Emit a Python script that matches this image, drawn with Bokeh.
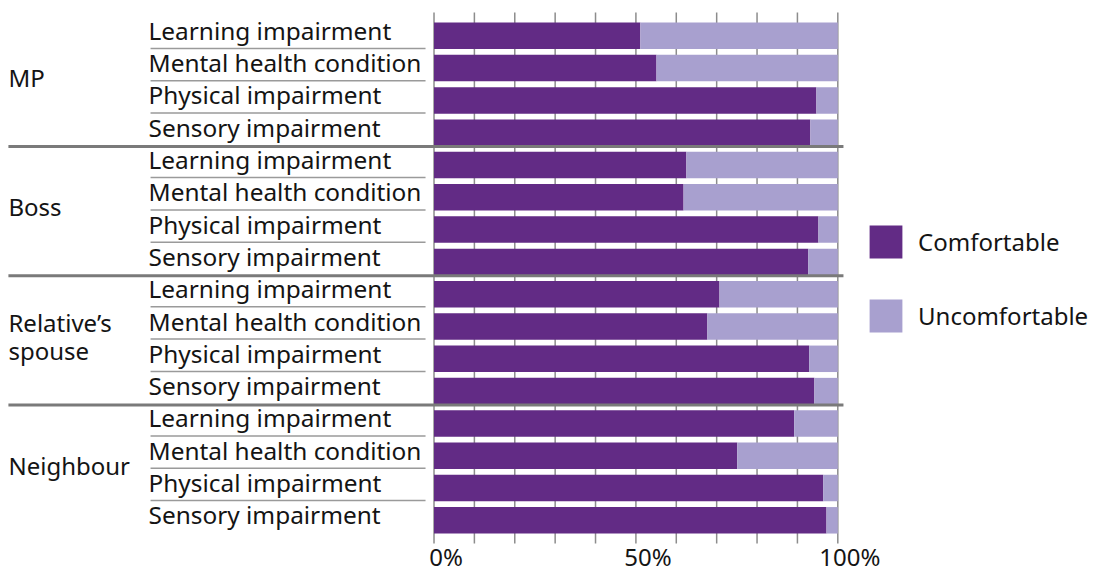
from bokeh.plotting import figure
from bokeh.models import Range1d, Legend, LegendItem
from bokeh.core.properties import value
from bokeh.embed import file_html
from bokeh.resources import INLINE

# ---- data ----
groups = ["MP", "Boss", "Relative\u2019s\nspouse", "Neighbour"]
conditions = ["Learning impairment", "Mental health condition",
              "Physical impairment", "Sensory impairment"]

mp_comfortable = [51.1, 55.1, 94.7, 93.2]
boss_comfortable = [62.5, 61.8, 95.2, 92.7]
spouse_comfortable = [70.7, 67.7, 92.9, 94.2]
neighbour_comfortable = [89.2, 75.1, 96.4, 97.2]

mp_uncomfortable = [48.9, 44.9, 5.3, 6.8]
boss_uncomfortable = [37.5, 38.2, 4.8, 7.3]
spouse_uncomfortable = [29.3, 32.3, 7.1, 5.8]
neighbour_uncomfortable = [10.8, 24.9, 3.6, 2.8]

grid_ticks = [0, 10, 20, 30, 40, 50, 60, 70, 80, 90, 100]
label_ticks = [0, 50, 100]
tick_labels = ["0%", "50%", "100%"]

series_names = ["Comfortable", "Uncomfortable"]

# ---- styles ----
DARK = "#622b85"
LIGHT = "#a8a0cf"
FONT = "Noto Sans"
TXT = "#141414"

comf = mp_comfortable + boss_comfortable + spouse_comfortable + neighbour_comfortable
uncomf = mp_uncomfortable + boss_uncomfortable + spouse_uncomfortable + neighbour_uncomfortable
n_cond = len(conditions)
rows = [g * n_cond + c for g in range(len(groups)) for c in range(n_cond)]
row_labels = [conditions[c] for g in range(len(groups)) for c in range(n_cond)]
left_unc = comf
right_unc = [a + b for a, b in zip(comf, uncomf)]

p = figure(width=1107, height=573,
           x_range=Range1d(-107.36, 166.79), y_range=Range1d(16.647, -1.093),
           output_backend="svg", toolbar_location=None, min_border=0,
           x_axis_location=None, y_axis_location=None)
p.grid.visible = False
p.outline_line_color = None
p.background_fill_color = "white"
p.border_fill_color = "white"

# vertical grid lines behind the bars
p.segment(x0=grid_ticks, y0=-0.72, x1=grid_ticks, y1=len(rows) - 1 + 0.72,
          line_color="#8c8c8c", line_width=1.5)

r1 = p.hbar(y=rows, left=0, right=comf, height=0.82, fill_color=DARK, line_color=None)
r2 = p.hbar(y=rows, left=left_unc, right=right_unc, height=0.82, fill_color=LIGHT, line_color=None)

# label underlines within groups
ul_y = [r + 0.39 for r in rows if r % n_cond != n_cond - 1]
p.segment(x0=-70.2, y0=ul_y, x1=-2.1, y1=ul_y, line_color="#9a9a9a", line_width=1.5)

# group separators
sep_y = [g * n_cond + n_cond - 1 + 0.43 for g in range(len(groups) - 1)]
p.segment(x0=-105.4, y0=sep_y, x1=101.4, y1=sep_y, line_color="#7a7a7a", line_width=3)

# condition labels
p.text(x=-70.7, y=[r - 0.17 for r in rows], text=row_labels,
       text_font=value(FONT), text_font_size="24.4px", text_color=TXT,
       text_align="left", text_baseline="alphabetic")

# group labels
g_y = [g * n_cond + (n_cond - 1) / 2 - 0.2 for g in range(len(groups))]
p.text(x=-105.4, y=g_y, text=groups, text_font=value(FONT), text_font_size="24px",
       text_color=TXT, text_align="left", text_baseline="middle", text_line_height=0.86)

# x tick labels
p.text(x=label_ticks, y=15.62, text=tick_labels, text_font=value(FONT),
       text_font_size="24px", text_color=TXT, text_align="center",
       text_baseline="top", x_offset=12)

legend = Legend(items=[LegendItem(label=series_names[0], renderers=[r1]),
                       LegendItem(label=series_names[1], renderers=[r2])],
                location=(865, 237), glyph_width=41, glyph_height=41, spacing=33,
                label_standoff=12, padding=0, margin=0, border_line_color=None,
                background_fill_alpha=0, label_text_font=FONT,
                label_text_font_size="24px", label_text_color=TXT)
p.add_layout(legend)

open("out.html", "w").write(file_html(p, INLINE))
